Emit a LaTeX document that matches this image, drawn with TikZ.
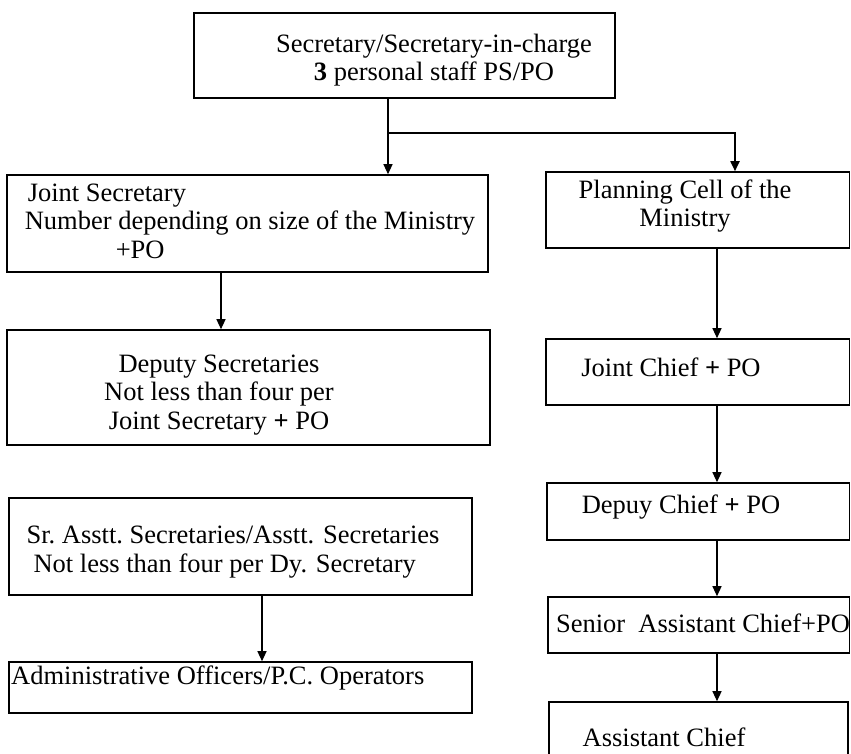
\documentclass[tikz,border=0pt]{standalone}
\usepackage{fontspec}
\setmainfont{Liberation Serif}
\usetikzlibrary{arrows.meta,positioning}

\begin{document}
\begin{tikzpicture}[
  x=1pt, y=-1pt,
  font=\fontsize{26.5}{28.5}\selectfont,
  >={Triangle[length=10pt,width=9pt]},
  box/.style={rectangle, draw=black, line width=1.6pt, inner sep=0pt},
  txt/.style={align=center, inner sep=0pt},
  arr/.style={->, line width=1.2pt, draw=black},
  link/.style={line width=1.2pt, draw=black}
]

\clip (0,0) rectangle (851,753);

% Secretary
\node[box, minimum width=421pt, minimum height=85pt] (sec) at (404.5,55.5) {};
\node[txt] (sec-t) at (434,60)
  {Secretary/Secretary-in-charge\\ \textbf{3} personal staff PS/PO};

% Left column
\node[box, minimum width=481pt, minimum height=97pt] (js) at (247.5,223.5) {};
\node[txt, align=left] (js-t) at (250,221)
  {\hspace*{3pt}Joint Secretary\\ Number depending on size of the Ministry\\ \hspace*{91pt}+PO};

\node[box, minimum width=483pt, minimum height=115pt] (ds) at (248.5,387.5) {};
\node[txt] (ds-t) at (219,395)
  {Deputy Secretaries\\ Not less than four per\\ Joint Secretary \textbf{+} PO};

\node[box, minimum width=463pt, minimum height=97pt] (sa) at (240.5,546.5) {};
\node[txt, align=left] (sa-t) at (233,552)
  {Sr.\ Asstt.\ Secretaries/Asstt. Secretaries\\ \hspace*{7pt}Not less than four per Dy. Secretary};

\node[box, minimum width=463pt, minimum height=51pt] (adm) at (240.5,687.5) {};
\node[txt, anchor=west] (adm-t) at (11,678)
  {Administrative Officers/P.C. Operators};

% Right column
\node[box, minimum width=303.5pt, minimum height=76pt] (plan) at (697.75,210) {};
\node[txt] (plan-t) at (685,206) {Planning Cell of the\\ Ministry};

\node[box, minimum width=303.5pt, minimum height=66pt] (jc) at (697.75,372) {};
\node[txt] (jc-t) at (671,367) {Joint Chief \textbf{+} PO};

\node[box, minimum width=302.5pt, minimum height=57pt] (dc) at (698.25,511.5) {};
\node[txt] (dc-t) at (681,507) {Depuy Chief \textbf{+} PO};

\node[box, minimum width=301.5pt, minimum height=56pt] (sac) at (698.75,625) {};
\node[txt] (sac-t) at (703,623) {Senior\ \ Assistant Chief+PO};

\node[box, minimum width=299pt, minimum height=98pt] (ac) at (698.5,751) {};
\node[txt] (ac-t) at (664,737) {Assistant Chief};

% Connectors
\coordinate (split) at (388,133);
\coordinate (planin) at (735,133);
\coordinate (lcol) at (221,0);
\coordinate (lcol2) at (262,0);
\coordinate (rcol) at (717,0);

\draw[link] (sec.south -| split) -- (split);
\draw[arr] (split) -- (split |- js.north);
\draw[arr, line width=1.8pt] (split) -| (planin |- plan.north);

\draw[arr] (js.south -| lcol) -- (ds.north -| lcol);
\draw[arr] (sa.south -| lcol2) -- (adm.north -| lcol2);

\draw[arr] (plan.south -| rcol) -- (jc.north -| rcol);
\draw[arr] (jc.south -| rcol) -- (dc.north -| rcol);
\draw[arr] (dc.south -| rcol) -- (sac.north -| rcol);
\draw[arr] (sac.south -| rcol) -- (ac.north -| rcol);

\end{tikzpicture}
\end{document}
